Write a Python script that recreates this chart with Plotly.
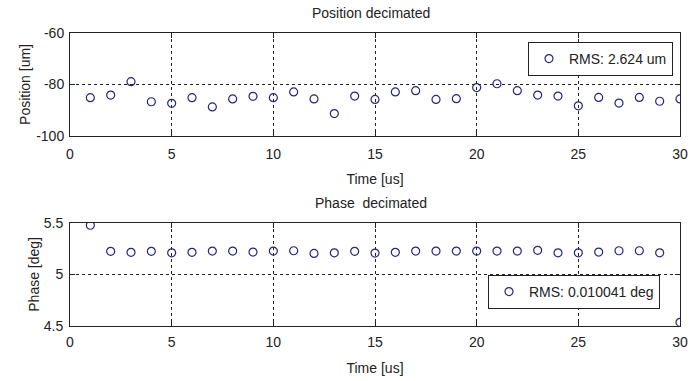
import plotly.graph_objects as go

time_us = list(range(1, 31))
position_um = [-85.1, -84.1, -78.9, -86.7, -87.3, -85.1, -88.7, -85.6, -84.6, -85.1,
               -82.9, -85.6, -91.3, -84.5, -85.8, -82.9, -82.4, -85.8, -85.5, -81.2,
               -79.7, -82.4, -84.1, -84.5, -88.3, -85.0, -87.2, -85.0, -86.5, -85.6]
phase_deg = [5.478, 5.224, 5.214, 5.224, 5.210, 5.214, 5.227, 5.227, 5.217, 5.227,
             5.230, 5.204, 5.210, 5.224, 5.207, 5.214, 5.227, 5.227, 5.227, 5.227,
             5.227, 5.227, 5.234, 5.210, 5.210, 5.217, 5.230, 5.230, 5.210, 4.533]
x_ticks = [0, 5, 10, 15, 20, 25, 30]
pos_ticks = [-100, -80, -60]
pos_tick_text = ["-100", "-80", "-60"]
phase_ticks = [4.5, 5, 5.5]
phase_tick_text = ["4.5", "5", "5.5"]
pos_label = "RMS: 2.624 um"
phase_label = "RMS: 0.010041 deg"

W, H = 691, 381
FONT = "Liberation Sans, Arial"
MARK = "#26267e"
FS = 14

fig = go.Figure()
fig.add_trace(go.Scatter(x=time_us, y=position_um, mode="markers", name=pos_label,
                         marker=dict(symbol="circle-open", size=8, color=MARK, line=dict(width=1.2)),
                         xaxis="x", yaxis="y", legend="legend", showlegend=True))
fig.add_trace(go.Scatter(x=time_us, y=phase_deg, mode="markers", name=phase_label,
                         marker=dict(symbol="circle-open", size=8, color=MARK, line=dict(width=1.2)),
                         xaxis="x2", yaxis="y2", legend="legend2", showlegend=True))

def px(v):
    return v / W

def py(v):
    return 1 - v / H

ax_common = dict(showline=True, linecolor="#222", linewidth=1, mirror="allticks",
                 ticks="inside", ticklen=5, tickcolor="#222", showgrid=True,
                 gridcolor="#222", griddash="dot", gridwidth=1, zeroline=False,
                 automargin=False,
                 tickfont=dict(family=FONT, size=FS, color="#222"))

fig.update_layout(
    width=W, height=H, margin=dict(l=0, r=0, t=0, b=0, autoexpand=False),
    paper_bgcolor="white", plot_bgcolor="white", showlegend=True,
    font=dict(family=FONT, size=FS, color="#222"),
    xaxis=dict(domain=[px(70), px(680)], range=[0, 30], tickvals=x_ticks,
               anchor="y", ticklabelstandoff=5,
               title=dict(text="Time [us]", standoff=13, font=dict(size=FS)), **ax_common),
    yaxis=dict(domain=[py(136), py(33)], range=[-100, -60], tickvals=pos_ticks, ticktext=pos_tick_text,
               anchor="x", ticklabelstandoff=2,
               title=dict(text="Position [um]", standoff=2, font=dict(size=FS)), **ax_common),
    xaxis2=dict(domain=[px(70), px(680)], range=[0, 30], tickvals=x_ticks,
                anchor="y2", ticklabelstandoff=3,
                title=dict(text="Time [us]", standoff=14, font=dict(size=FS)), **ax_common),
    yaxis2=dict(domain=[py(325.7), py(223)], range=[4.5, 5.5], tickvals=phase_ticks, ticktext=phase_tick_text,
                anchor="x2", ticklabelstandoff=3,
                title=dict(text="Phase [deg]", standoff=0, font=dict(size=FS)), **ax_common),
    legend=dict(x=px(528), y=py(42), xanchor="left", yanchor="top", bgcolor="white",
                bordercolor="#222", borderwidth=1, font=dict(family=FONT, size=FS, color="#222"),
                itemwidth=30),
    legend2=dict(x=px(488), y=py(275), xanchor="left", yanchor="top", bgcolor="white",
                 bordercolor="#222", borderwidth=1, font=dict(family=FONT, size=FS, color="#222"),
                 itemwidth=30),
    annotations=[
        dict(text="Position decimated", x=px(371), y=py(13), xref="paper", yref="paper",
             xanchor="center", yanchor="middle",
             showarrow=False, font=dict(family=FONT, size=FS, color="#222")),
        dict(text="Phase  decimated", x=px(371), y=py(203), xref="paper", yref="paper",
             xanchor="center", yanchor="middle",
             showarrow=False, font=dict(family=FONT, size=FS, color="#222")),
    ],
)

fig.write_html("out.html")
